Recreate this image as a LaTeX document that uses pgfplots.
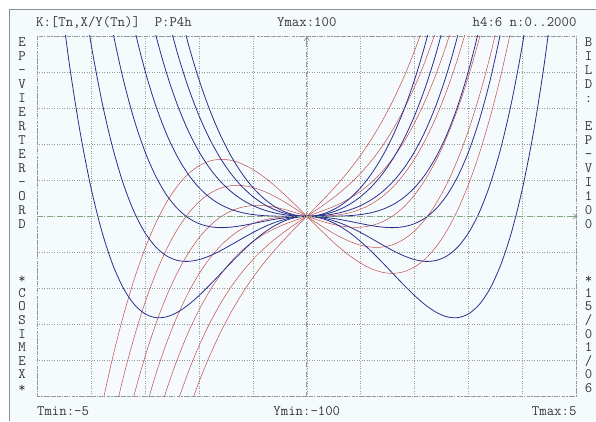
\documentclass[border=0pt]{standalone}
\usepackage{pgfplots}
\pgfplotsset{compat=1.18}
\usepackage{fontspec}
\usetikzlibrary{arrows.meta}
\definecolor{bgpanel}{RGB}{245,251,253}
\definecolor{framegray}{RGB}{140,140,150}
\definecolor{gridgray}{RGB}{150,150,150}
\definecolor{axgreen}{RGB}{130,165,130}
\definecolor{curveblue}{RGB}{45,45,140}
\definecolor{curvered}{RGB}{195,75,75}
\definecolor{txt}{RGB}{55,55,55}
\begin{document}
\begin{tikzpicture}
\begin{scope}[x=1bp,y=1bp]
\fill[white] (0,0) rectangle (596,421);
\fill[bgpanel] (9,0) rectangle (596,412);
\draw[framegray, line width=0.8bp] (9,0) -- (9,412) -- (596,412);
\end{scope}
\begin{axis}[at={(37bp,24bp)}, anchor=south west, scale only axis,
  width=540bp, height=361bp, xmin=-5, xmax=5, ymin=-100, ymax=100,
  xtick={-5,...,5}, ytick={-100,-80,...,100}, xticklabels={}, yticklabels={},
  major tick length=0pt, grid=major,
  grid style={gridgray, line width=0.6bp, dash pattern=on 1bp off 1.5bp},
  axis line style={gridgray, line width=0.7bp, dash pattern=on 3bp off 1.5bp on 1bp off 1.5bp},
  clip mode=individual]
% red curves: y' family
\addplot[curvered, line width=0.5bp, smooth, mark=none] coordinates {(-3.8,-105.49)(-3.6,-78.62)(-3.4,-55.22)(-3.2,-35.07)(-3.0,-18)(-2.8,-3.81)(-2.6,7.70)(-2.4,16.70)(-2.2,23.41)(-2.0,28)(-1.8,30.67)(-1.6,31.62)(-1.4,31.02)(-1.2,29.09)(-1.0,26)(-0.8,21.95)(-0.6,17.14)(-0.4,11.74)(-0.2,5.97)(0,0)(0.2,-5.97)(0.4,-11.74)(0.6,-17.14)(0.8,-21.95)(1.0,-26)(1.2,-29.09)(1.4,-31.02)(1.6,-31.62)(1.8,-30.67)(2.0,-28)(2.2,-23.41)(2.4,-16.70)(2.6,-7.70)(2.8,3.81)(3.0,18)(3.2,35.07)(3.4,55.22)(3.6,78.62)(3.8,105.49)};
\addplot[curvered, line width=0.5bp, smooth, mark=none] coordinates {(-3.6,-114.62)(-3.4,-89.22)(-3.2,-67.07)(-3.0,-48)(-2.8,-31.81)(-2.6,-18.30)(-2.4,-7.30)(-2.2,1.41)(-2.0,8)(-1.8,12.67)(-1.6,15.62)(-1.4,17.02)(-1.2,17.09)(-1.0,16)(-0.8,13.95)(-0.6,11.14)(-0.4,7.74)(-0.2,3.97)(0,0)(0.2,-3.97)(0.4,-7.74)(0.6,-11.14)(0.8,-13.95)(1.0,-16)(1.2,-17.09)(1.4,-17.02)(1.6,-15.62)(1.8,-12.67)(2.0,-8)(2.2,-1.41)(2.4,7.30)(2.6,18.30)(2.8,31.81)(3.0,48)(3.2,67.07)(3.4,89.22)(3.6,114.62)};
\addplot[curvered, line width=0.5bp, smooth, mark=none] coordinates {(-3.4,-123.22)(-3.2,-99.07)(-3.0,-78)(-2.8,-59.81)(-2.6,-44.30)(-2.4,-31.30)(-2.2,-20.59)(-2.0,-12)(-1.8,-5.33)(-1.6,-0.38)(-1.4,3.02)(-1.2,5.09)(-1.0,6)(-0.8,5.95)(-0.6,5.14)(-0.4,3.74)(-0.2,1.97)(0,0)(0.2,-1.97)(0.4,-3.74)(0.6,-5.14)(0.8,-5.95)(1.0,-6)(1.2,-5.09)(1.4,-3.02)(1.6,0.38)(1.8,5.33)(2.0,12)(2.2,20.59)(2.4,31.30)(2.6,44.30)(2.8,59.81)(3.0,78)(3.2,99.07)(3.4,123.22)};
\addplot[curvered, line width=0.5bp, smooth, mark=none] coordinates {(-3.0,-108)(-2.8,-87.81)(-2.6,-70.30)(-2.4,-55.30)(-2.2,-42.59)(-2.0,-32)(-1.8,-23.33)(-1.6,-16.38)(-1.4,-10.98)(-1.2,-6.91)(-1.0,-4)(-0.8,-2.05)(-0.6,-0.86)(-0.4,-0.26)(-0.2,-0.03)(0,0)(0.2,0.03)(0.4,0.26)(0.6,0.86)(0.8,2.05)(1.0,4)(1.2,6.91)(1.4,10.98)(1.6,16.38)(1.8,23.33)(2.0,32)(2.2,42.59)(2.4,55.30)(2.6,70.30)(2.8,87.81)(3.0,108)};
\addplot[curvered, line width=0.5bp, smooth, mark=none] coordinates {(-2.8,-115.81)(-2.6,-96.30)(-2.4,-79.30)(-2.2,-64.59)(-2.0,-52)(-1.8,-41.33)(-1.6,-32.38)(-1.4,-24.98)(-1.2,-18.91)(-1.0,-14)(-0.8,-10.05)(-0.6,-6.86)(-0.4,-4.26)(-0.2,-2.03)(0,0)(0.2,2.03)(0.4,4.26)(0.6,6.86)(0.8,10.05)(1.0,14)(1.2,18.91)(1.4,24.98)(1.6,32.38)(1.8,41.33)(2.0,52)(2.2,64.59)(2.4,79.30)(2.6,96.30)(2.8,115.81)};
\addplot[curvered, line width=0.5bp, smooth, mark=none] coordinates {(-2.4,-103.30)(-2.2,-86.59)(-2.0,-72)(-1.8,-59.33)(-1.6,-48.38)(-1.4,-38.98)(-1.2,-30.91)(-1.0,-24)(-0.8,-18.05)(-0.6,-12.86)(-0.4,-8.26)(-0.2,-4.03)(0,0)(0.2,4.03)(0.4,8.26)(0.6,12.86)(0.8,18.05)(1.0,24)(1.2,30.91)(1.4,38.98)(1.6,48.38)(1.8,59.33)(2.0,72)(2.2,86.59)(2.4,103.30)};
\addplot[curvered, line width=0.5bp, smooth, mark=none] coordinates {(-2.2,-108.59)(-2.0,-92)(-1.8,-77.33)(-1.6,-64.38)(-1.4,-52.98)(-1.2,-42.91)(-1.0,-34)(-0.8,-26.05)(-0.6,-18.86)(-0.4,-12.26)(-0.2,-6.03)(0,0)(0.2,6.03)(0.4,12.26)(0.6,18.86)(0.8,26.05)(1.0,34)(1.2,42.91)(1.4,52.98)(1.6,64.38)(1.8,77.33)(2.0,92)(2.2,108.59)};
% blue curves: quartic family
\addplot[curveblue, line width=0.8bp, smooth, mark=none] coordinates {(-4.6,130.35)(-4.4,84.41)(-4.2,46.57)(-4.0,16)(-3.8,-8.09)(-3.6,-26.44)(-3.4,-39.77)(-3.2,-48.74)(-3.0,-54)(-2.8,-56.13)(-2.6,-55.70)(-2.4,-53.22)(-2.2,-49.17)(-2.0,-44)(-1.8,-38.10)(-1.6,-31.85)(-1.4,-25.56)(-1.2,-19.53)(-1.0,-14)(-0.8,-9.19)(-0.6,-5.27)(-0.4,-2.37)(-0.2,-0.60)(0,0)(0.2,-0.60)(0.4,-2.37)(0.6,-5.27)(0.8,-9.19)(1.0,-14)(1.2,-19.53)(1.4,-25.56)(1.6,-31.85)(1.8,-38.10)(2.0,-44)(2.2,-49.17)(2.4,-53.22)(2.6,-55.70)(2.8,-56.13)(3.0,-54)(3.2,-48.74)(3.4,-39.77)(3.6,-26.44)(3.8,-8.09)(4.0,16)(4.2,46.57)(4.4,84.41)(4.6,130.35)};
\addplot[curveblue, line width=0.8bp, smooth, mark=none] coordinates {(-4.2,134.77)(-4.0,96)(-3.8,64.11)(-3.6,38.36)(-3.4,18.03)(-3.2,2.46)(-3.0,-9)(-2.8,-16.93)(-2.6,-21.90)(-2.4,-24.42)(-2.2,-24.97)(-2.0,-24)(-1.8,-21.90)(-1.6,-19.05)(-1.4,-15.76)(-1.2,-12.33)(-1.0,-9)(-0.8,-5.99)(-0.6,-3.47)(-0.4,-1.57)(-0.2,-0.40)(0,0)(0.2,-0.40)(0.4,-1.57)(0.6,-3.47)(0.8,-5.99)(1.0,-9)(1.2,-12.33)(1.4,-15.76)(1.6,-19.05)(1.8,-21.90)(2.0,-24)(2.2,-24.97)(2.4,-24.42)(2.6,-21.90)(2.8,-16.93)(3.0,-9)(3.2,2.46)(3.4,18.03)(3.6,38.36)(3.8,64.11)(4.0,96)(4.2,134.77)};
\addplot[curveblue, line width=0.8bp, smooth, mark=none] coordinates {(-3.8,136.31)(-3.6,103.16)(-3.4,75.83)(-3.2,53.66)(-3.0,36)(-2.8,22.27)(-2.6,11.90)(-2.4,4.38)(-2.2,-0.77)(-2.0,-4)(-1.8,-5.70)(-1.6,-6.25)(-1.4,-5.96)(-1.2,-5.13)(-1.0,-4)(-0.8,-2.79)(-0.6,-1.67)(-0.4,-0.77)(-0.2,-0.20)(0,0)(0.2,-0.20)(0.4,-0.77)(0.6,-1.67)(0.8,-2.79)(1.0,-4)(1.2,-5.13)(1.4,-5.96)(1.6,-6.25)(1.8,-5.70)(2.0,-4)(2.2,-0.77)(2.4,4.38)(2.6,11.90)(2.8,22.27)(3.0,36)(3.2,53.66)(3.4,75.83)(3.6,103.16)(3.8,136.31)};
\addplot[curveblue, line width=0.8bp, smooth, mark=none] coordinates {(-3.4,133.63)(-3.2,104.86)(-3.0,81)(-2.8,61.47)(-2.6,45.70)(-2.4,33.18)(-2.2,23.43)(-2.0,16)(-1.8,10.50)(-1.6,6.55)(-1.4,3.84)(-1.2,2.07)(-1.0,1)(-0.8,0.41)(-0.6,0.13)(-0.4,0.03)(-0.2,0)(0,0)(0.2,0)(0.4,0.03)(0.6,0.13)(0.8,0.41)(1.0,1)(1.2,2.07)(1.4,3.84)(1.6,6.55)(1.8,10.50)(2.0,16)(2.2,23.43)(2.4,33.18)(2.6,45.70)(2.8,61.47)(3.0,81)(3.2,104.86)(3.4,133.63)};
\addplot[curveblue, line width=0.8bp, smooth, mark=none] coordinates {(-3.0,126)(-2.8,100.67)(-2.6,79.50)(-2.4,61.98)(-2.2,47.63)(-2.0,36)(-1.8,26.70)(-1.6,19.35)(-1.4,13.64)(-1.2,9.27)(-1.0,6)(-0.8,3.61)(-0.6,1.93)(-0.4,0.83)(-0.2,0.20)(0,0)(0.2,0.20)(0.4,0.83)(0.6,1.93)(0.8,3.61)(1.0,6)(1.2,9.27)(1.4,13.64)(1.6,19.35)(1.8,26.70)(2.0,36)(2.2,47.63)(2.4,61.98)(2.6,79.50)(2.8,100.67)(3.0,126)};
\addplot[curveblue, line width=0.8bp, smooth, mark=none] coordinates {(-2.6,113.30)(-2.4,90.78)(-2.2,71.83)(-2.0,56)(-1.8,42.90)(-1.6,32.15)(-1.4,23.44)(-1.2,16.47)(-1.0,11)(-0.8,6.81)(-0.6,3.73)(-0.4,1.63)(-0.2,0.40)(0,0)(0.2,0.40)(0.4,1.63)(0.6,3.73)(0.8,6.81)(1.0,11)(1.2,16.47)(1.4,23.44)(1.6,32.15)(1.8,42.90)(2.0,56)(2.2,71.83)(2.4,90.78)(2.6,113.30)};
\addplot[curveblue, line width=0.8bp, smooth, mark=none] coordinates {(-2.4,119.58)(-2.2,96.03)(-2.0,76)(-1.8,59.10)(-1.6,44.95)(-1.4,33.24)(-1.2,23.67)(-1.0,16)(-0.8,10.01)(-0.6,5.53)(-0.4,2.43)(-0.2,0.60)(0,0)(0.2,0.60)(0.4,2.43)(0.6,5.53)(0.8,10.01)(1.0,16)(1.2,23.67)(1.4,33.24)(1.6,44.95)(1.8,59.10)(2.0,76)(2.2,96.03)(2.4,119.58)};
% coordinate axes
\draw[axgreen, line width=0.7bp, dash pattern=on 5bp off 2bp on 1bp off 2bp] (axis cs:-5,0) -- (axis cs:4.98,0);
\draw[axgreen, line width=0.7bp, -{Straight Barb[length=4bp,width=5bp]}] (axis cs:4.9,0) -- (axis cs:5.02,0);
\draw[gridgray!80!axgreen, line width=0.7bp, dash pattern=on 5bp off 2bp on 1bp off 2bp] (axis cs:0,-100) -- (axis cs:0,98);
\draw[gridgray!80!axgreen, line width=0.7bp, -{Straight Barb[length=4bp,width=5bp]}] (axis cs:0,96) -- (axis cs:0,100);
\end{axis}
\begin{scope}[x=1bp,y=1bp, every node/.style={inner sep=0pt, text=txt, font=\ttfamily\fontsize{14.4bp}{16bp}\selectfont}]
\node[anchor=base west] at (36,394) {K:[Tn,X/Y(Tn)]~~P:P4h};
\node[anchor=base] at (307,394) {Ymax:100};
\node[anchor=base east] at (577,394) {h4:6~n:0..2000};
\node[anchor=base west] at (37,5) {Tmin:-5};
\node[anchor=base] at (307,5) {Ymin:-100};
\node[anchor=base east] at (577,5) {Tmax:5};
\foreach \c [count=\i from 0] in {E,P,-,V,I,E,R,T,E,R,-,O,R,D}
  \node[anchor=base] at (22,{421-47-14*\i}) {\c};
\foreach \c [count=\i from 0] in {*,C,O,S,I,M,E,X,*}
  \node[anchor=base] at (22,{421-284-13.6*\i}) {\c};
\foreach \c [count=\i from 0] in {B,I,L,D,:,{},E,P,-,V,I,1,0,0}
  \node[anchor=base] at (589,{421-47-14*\i}) {\c};
\foreach \c [count=\i from 0] in {*,1,5,{/},0,1,{/},0,6}
  \node[anchor=base] at (589,{421-284-13.6*\i}) {\c};
\end{scope}
\end{tikzpicture}
\end{document}
